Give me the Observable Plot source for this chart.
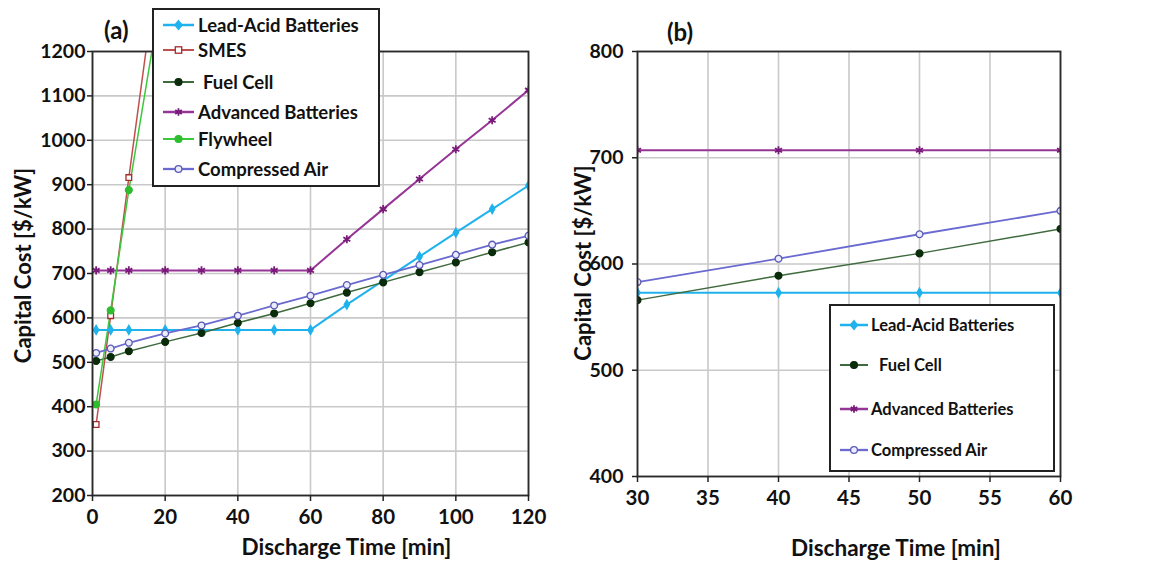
<!DOCTYPE html>
<html>
<head>
<meta charset="utf-8">
<script src="https://cdn.jsdelivr.net/npm/d3@7"></script>
<script src="https://cdn.jsdelivr.net/npm/@observablehq/plot@0.6"></script>
<style>
  html, body { margin: 0; padding: 0; background: #fff; }
  #root { position: relative; width: 1152px; height: 565px; overflow: hidden; font-family: Lato, "Open Sans", sans-serif; font-weight: bold; color: #111; }
  .abs { position: absolute; }
  .panel-title { font-size: 24px; font-weight: bold; }
  .legend { position: absolute; background: #fff; border: 2px solid #222; box-sizing: border-box; }
  .legend .row { position: absolute; display: flex; align-items: center; white-space: nowrap; }
  .legend svg { display: block; }
</style>
</head>
<body>
<div id="root"></div>
<script>
// ---------- data ----------
const timesMain = [1, 5, 10, 20, 30, 40, 50, 60, 70, 80, 90, 100, 110, 120];
const leadAcid   = [573, 573, 573, 573, 573, 573, 573, 573, 630, 684, 738, 792, 845, 898];
const fuelCell   = [503, 512, 525, 546, 566, 589, 610, 633, 657, 680, 703, 725, 748, 770];
const advanced   = [707, 707, 707, 707, 707, 707, 707, 707, 777, 845, 913, 980, 1045, 1113];
const compressed = [521, 531, 544, 565, 583, 605, 628, 650, 674, 697, 719, 742, 765, 785];
const timesFast  = [1, 5, 10, 20];
const smes       = [360, 605, 916, 1520];
const flywheel   = [405, 617, 888, 1380];

const seriesNames = ["Lead-Acid Batteries", "SMES", "Fuel Cell", "Advanced Batteries", "Flywheel", "Compressed Air"];
const ticksA_x = [0, 20, 40, 60, 80, 100, 120];
const ticksA_y = [200, 300, 400, 500, 600, 700, 800, 900, 1000, 1100, 1200];
const ticksB_x = [30, 35, 40, 45, 50, 55, 60];
const ticksB_y = [400, 500, 600, 700, 800];
const panelBSeries = ["Lead-Acid Batteries", "Fuel Cell", "Advanced Batteries", "Compressed Air"];

// ---------- styles per series ----------
const styles = {
  "Lead-Acid Batteries": {line: "#1fb2ec", width: 2,   symbol: "diamond", fill: "#1fb2ec", stroke: "#1fb2ec", r: 2.8},
  "SMES":                {line: "#c0504d", width: 1.5, symbol: "square",  fill: "#fff",    stroke: "#a52a2a", r: 3.2},
  "Fuel Cell":           {line: "#3e6a3e", width: 1.5, symbol: "circle",  fill: "#0b2c0b", stroke: "#0b2c0b", r: 3.4},
  "Advanced Batteries":  {line: "#953595", width: 2,   symbol: "asterisk",fill: "none",    stroke: "#7a1a7a", r: 3.8},
  "Flywheel":            {line: "#3cc83c", width: 1.5, symbol: "circle",  fill: "#2dbd2d", stroke: "#2dbd2d", r: 3.4},
  "Compressed Air":      {line: "#6a6ad0", width: 1.8, symbol: "circle",  fill: "#ececff", stroke: "#5a5ab4", r: 3.4}
};

function rows(name, xs, ys) { return xs.map((x, i) => ({series: name, x, y: ys[i]})); }
const allData = [
  ...rows("Lead-Acid Batteries", timesMain, leadAcid),
  ...rows("SMES", timesFast, smes),
  ...rows("Fuel Cell", timesMain, fuelCell),
  ...rows("Advanced Batteries", timesMain, advanced),
  ...rows("Flywheel", timesFast, flywheel),
  ...rows("Compressed Air", timesMain, compressed)
];

const FONT = "Lato, 'Open Sans', sans-serif";
const grid = {stroke: "#c9c9c9", strokeOpacity: 1, strokeWidth: 1.6};
const fmt = d => String(d);

function seriesMarks(data, names) {
  const marks = [];
  for (const n of names) {
    const s = styles[n];
    const d = data.filter(r => r.series === n);
    marks.push(Plot.line(d, {x: "x", y: "y", stroke: s.line, strokeWidth: s.width, clip: true}));
  }
  for (const n of names) {
    const s = styles[n];
    const d = data.filter(r => r.series === n);
    marks.push(Plot.dot(d, {x: "x", y: "y", symbol: () => s.symbol, r: s.r, fill: s.fill, stroke: s.stroke,
                            strokeWidth: s.symbol === "asterisk" ? 1.8 : 1.3, clip: true}));
  }
  return marks;
}

const root = document.getElementById("root");

// ---------- panel (a) ----------
const plotA = Plot.plot({
  width: 560, height: 565,
  marginLeft: 92, marginTop: 51, marginRight: 32, marginBottom: 70,
  x: {domain: [0, 120], label: null},
  y: {domain: [200, 1200], label: null},
  symbol: {type: "identity"},
  style: {fontFamily: FONT, fontWeight: "bold", color: "#111", background: "transparent", overflow: "visible"},
  marks: [
    Plot.gridX(ticksA_x, grid),
    Plot.gridY(ticksA_y, grid),
    ...seriesMarks(allData, seriesNames),
    Plot.frame({stroke: "#2a2a2a", strokeWidth: 1.8}),
    Plot.axisX(ticksA_x, {tickSize: 6, tickPadding: 8, fontSize: 20.5, fontWeight: "bold", stroke: "#222", strokeWidth: 1.5, tickFormat: fmt, label: null}),
    Plot.axisY(ticksA_y, {tickSize: 5, tickPadding: 2, fontSize: 19.5, fontWeight: "bold", stroke: "#222", strokeWidth: 1.5, tickFormat: fmt, label: null}),
    Plot.text(["Discharge Time [min]"], {text: d => d, frameAnchor: "bottom", textAnchor: "middle", dx: 36, dy: 59, fontSize: 22.5, fontWeight: "bold", fill: "#111"}),
    Plot.text(["Capital Cost [$/kW]"], {text: d => d, frameAnchor: "left", textAnchor: "middle", lineAnchor: "middle", dx: -69, dy: -8, rotate: -90, fontSize: 22, fontWeight: "bold", fill: "#111"})
  ]
});
plotA.style.position = "absolute"; plotA.style.left = "0px"; plotA.style.top = "0px";
root.appendChild(plotA);

// ---------- panel (b) ----------
const dataB = allData.filter(d => panelBSeries.includes(d.series) && d.x >= 30 && d.x <= 60);
const plotB = Plot.plot({
  width: 592, height: 565,
  marginLeft: 77, marginTop: 51, marginRight: 92, marginBottom: 89,
  x: {domain: [30, 60], label: null},
  y: {domain: [400, 800], label: null},
  symbol: {type: "identity"},
  style: {fontFamily: FONT, fontWeight: "bold", color: "#111", background: "transparent", overflow: "visible"},
  marks: [
    Plot.gridX(ticksB_x, grid),
    Plot.gridY(ticksB_y, grid),
    ...seriesMarks(dataB, panelBSeries),
    Plot.frame({stroke: "#2a2a2a", strokeWidth: 1.8}),
    Plot.axisX(ticksB_x, {tickSize: 6, tickPadding: 8, fontSize: 20.5, fontWeight: "bold", stroke: "#222", strokeWidth: 1.5, tickFormat: fmt, label: null}),
    Plot.axisY(ticksB_y, {tickSize: 5, tickPadding: 9, fontSize: 19.5, fontWeight: "bold", stroke: "#222", strokeWidth: 1.5, tickFormat: fmt, label: null}),
    Plot.text(["Discharge Time [min]"], {text: d => d, frameAnchor: "bottom", textAnchor: "middle", dx: 47, dy: 79, fontSize: 22.5, fontWeight: "bold", fill: "#111"}),
    Plot.text(["Capital Cost [$/kW]"], {text: d => d, frameAnchor: "left", textAnchor: "middle", lineAnchor: "middle", dx: -54, dy: -1, rotate: -90, fontSize: 22, fontWeight: "bold", fill: "#111"})
  ]
});
plotB.style.position = "absolute"; plotB.style.left = "560px"; plotB.style.top = "0px";
root.appendChild(plotB);

// ---------- panel titles ----------
function addText(txt, left, top, cls) {
  const el = document.createElement("div");
  el.className = "abs " + cls; el.textContent = txt;
  el.style.left = left + "px"; el.style.top = top + "px";
  root.appendChild(el);
}
addText("(a)", 104, 15, "panel-title");
addText("(b)", 667, 17, "panel-title");

// ---------- legends ----------
function swatch(name, w) {
  const s = styles[name];
  const ns = "http://www.w3.org/2000/svg";
  const svg = document.createElementNS(ns, "svg");
  svg.setAttribute("width", w); svg.setAttribute("height", 14);
  const line = document.createElementNS(ns, "line");
  line.setAttribute("x1", 0); line.setAttribute("x2", w); line.setAttribute("y1", 7); line.setAttribute("y2", 7);
  line.setAttribute("stroke", s.line); line.setAttribute("stroke-width", s.width + 0.5);
  svg.appendChild(line);
  const cx = w / 2, cy = 7, r = s.r;
  let m;
  if (s.symbol === "circle") {
    m = document.createElementNS(ns, "circle");
    m.setAttribute("cx", cx); m.setAttribute("cy", cy); m.setAttribute("r", r);
  } else if (s.symbol === "square") {
    m = document.createElementNS(ns, "rect");
    m.setAttribute("x", cx - r); m.setAttribute("y", cy - r); m.setAttribute("width", 2 * r); m.setAttribute("height", 2 * r);
  } else if (s.symbol === "diamond") {
    m = document.createElementNS(ns, "path");
    const q = r * 1.3;
    m.setAttribute("d", `M${cx},${cy - q * 1.2}L${cx + q},${cy}L${cx},${cy + q * 1.2}L${cx - q},${cy}Z`);
  } else {
    m = document.createElementNS(ns, "path");
    const a = r, b = r * 0.87;
    m.setAttribute("d", `M${cx},${cy - a}V${cy + a}M${cx - b},${cy - a / 2}L${cx + b},${cy + a / 2}M${cx - b},${cy + a / 2}L${cx + b},${cy - a / 2}`);
  }
  m.setAttribute("fill", s.fill); m.setAttribute("stroke", s.stroke); m.setAttribute("stroke-width", s.symbol === "asterisk" ? 1.8 : 1.3);
  svg.appendChild(m);
  return svg;
}

function legend(box, entries, opt) {
  const lg = document.createElement("div");
  lg.className = "legend";
  Object.assign(lg.style, {left: box.left + "px", top: box.top + "px", width: box.width + "px", height: box.height + "px"});
  entries.forEach(([name, y, extra]) => {
    const row = document.createElement("div");
    row.className = "row";
    row.style.left = opt.swLeft + "px"; row.style.top = (y - box.top - 11) + "px";
    const sw = swatch(name, opt.swW);
    row.appendChild(sw);
    const t = document.createElement("span");
    t.textContent = name;
    t.style.fontSize = opt.fs + "px";
    t.style.marginLeft = (opt.gap + (extra || 0)) + "px";
    t.style.lineHeight = "22px";
    row.appendChild(t);
    lg.appendChild(row);
  });
  root.appendChild(lg);
}

legend({left: 152, top: 8, width: 228, height: 179},
  [["Lead-Acid Batteries", 23], ["SMES", 48], ["Fuel Cell", 80, 5], ["Advanced Batteries", 110], ["Flywheel", 137], ["Compressed Air", 167]],
  {swLeft: 9, swW: 31, gap: 4, fs: 18.5});

legend({left: 829, top: 304, width: 226, height: 168},
  [["Lead-Acid Batteries", 323], ["Fuel Cell", 363, 8], ["Advanced Batteries", 407], ["Compressed Air", 448]],
  {swLeft: 9, swW: 28, gap: 3, fs: 16.5});
</script>
</body>
</html>
